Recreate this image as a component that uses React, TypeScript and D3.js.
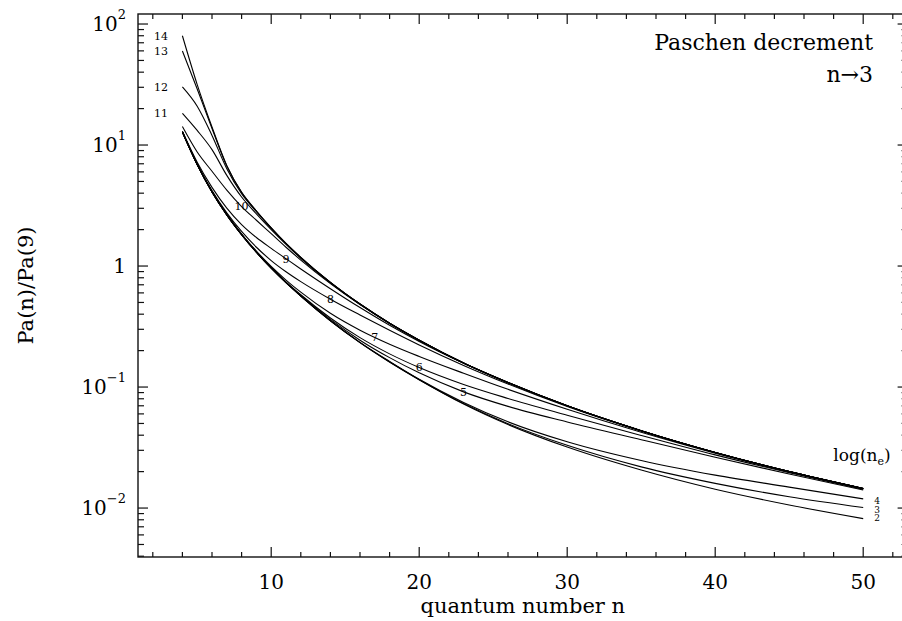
import React, { useEffect, useRef } from 'react'
import * as d3 from 'd3'

// quantum number n at which the curves were read
const nGrid = [4, 5, 6, 7, 8, 9, 10, 11, 12, 14, 16, 18, 20, 23, 26, 30, 35, 40, 45, 50]

// Pa(n)/Pa(9), one array per log(n_e)
const ne2 = [12.8, 6.90, 4.10, 2.65, 1.82, 1.30, 0.959, 0.728, 0.565, 0.353, 0.233, 0.161, 0.115, 0.0724, 0.0490, 0.0319, 0.0206, 0.0143, 0.0106, 0.00818]
const ne3 = [12.8, 6.90, 4.10, 2.65, 1.82, 1.30, 0.959, 0.728, 0.565, 0.353, 0.233, 0.161, 0.115, 0.0731, 0.0498, 0.0330, 0.0219, 0.0160, 0.0124, 0.0101]
const ne4 = [12.8, 6.90, 4.10, 2.65, 1.82, 1.30, 0.959, 0.728, 0.565, 0.354, 0.234, 0.163, 0.116, 0.0746, 0.0516, 0.0353, 0.0247, 0.0187, 0.0149, 0.0119]
const ne5 = [12.8, 6.90, 4.10, 2.65, 1.82, 1.30, 0.964, 0.733, 0.571, 0.362, 0.244, 0.175, 0.131, 0.0912, 0.0692, 0.0515, 0.0367, 0.0263, 0.0191, 0.0141]
const ne6 = [12.8, 6.90, 4.11, 2.66, 1.83, 1.31, 0.971, 0.740, 0.579, 0.372, 0.256, 0.188, 0.145, 0.105, 0.0805, 0.0585, 0.0398, 0.0275, 0.0196, 0.0143]
const ne7 = [12.8, 6.92, 4.12, 2.67, 1.84, 1.33, 0.991, 0.766, 0.608, 0.407, 0.295, 0.226, 0.179, 0.130, 0.0957, 0.0655, 0.0423, 0.0284, 0.0199, 0.0144]
const ne8 = [12.9, 6.98, 4.20, 2.75, 1.93, 1.43, 1.11, 0.897, 0.743, 0.532, 0.394, 0.295, 0.223, 0.151, 0.106, 0.0690, 0.0433, 0.0288, 0.0200, 0.0145]
const ne9 = [13.0, 7.21, 4.47, 3.01, 2.20, 1.72, 1.40, 1.15, 0.946, 0.650, 0.454, 0.324, 0.238, 0.157, 0.108, 0.0700, 0.0436, 0.0288, 0.0200, 0.0145]
const ne10 = [14.2, 8.75, 6.07, 4.24, 3.10, 2.39, 1.85, 1.43, 1.12, 0.716, 0.480, 0.335, 0.244, 0.158, 0.109, 0.0700, 0.0436, 0.0288, 0.0200, 0.0145]
const ne11 = [18.3, 13.2, 9.16, 5.61, 3.72, 2.70, 2.00, 1.51, 1.16, 0.728, 0.484, 0.337, 0.244, 0.158, 0.109, 0.0700, 0.0436, 0.0288, 0.0200, 0.0145]
const ne12 = [30.2, 20.9, 12.0, 6.37, 3.96, 2.81, 2.05, 1.53, 1.17, 0.733, 0.485, 0.337, 0.244, 0.158, 0.109, 0.0700, 0.0436, 0.0288, 0.0200, 0.0145]
const ne13 = [59.8, 29.0, 13.7, 6.70, 4.06, 2.85, 2.07, 1.54, 1.18, 0.733, 0.485, 0.337, 0.244, 0.158, 0.109, 0.0700, 0.0436, 0.0288, 0.0200, 0.0145]
const ne14 = [80.0, 31.6, 14.1, 6.76, 4.07, 2.85, 2.07, 1.54, 1.18, 0.733, 0.485, 0.337, 0.244, 0.158, 0.109, 0.0700, 0.0436, 0.0288, 0.0200, 0.0145]

const series = [
    { ne: 2, values: ne2 }, { ne: 3, values: ne3 }, { ne: 4, values: ne4 },
    { ne: 5, values: ne5 }, { ne: 6, values: ne6 }, { ne: 7, values: ne7 },
    { ne: 8, values: ne8 }, { ne: 9, values: ne9 }, { ne: 10, values: ne10 },
    { ne: 11, values: ne11 }, { ne: 12, values: ne12 }, { ne: 13, values: ne13 },
    { ne: 14, values: ne14 },
]

const xTicks = [10, 20, 30, 40, 50]
const yTicks = [0.01, 0.1, 1, 10, 100]
const yTickLabels = [['10', '−2'], ['10', '−1'], ['1', ''], ['10', '1'], ['10', '2']]

// curves labelled at their start (left), along the middle, and at the right end
const startLabels = [14, 13, 12, 11]
const midLabels = [{ ne: 10, n: 8 }, { ne: 9, n: 11 }, { ne: 8, n: 14 }, { ne: 7, n: 17 }, { ne: 6, n: 20 }, { ne: 5, n: 23 }]
const endLabels = [4, 3, 2]

const FONT = '"DejaVu Serif", serif'

const valueAt = (values: number[], n: number) => {
    const i = d3.bisectLeft(nGrid, n)
    if (nGrid[i] === n) return values[i]
    const t = (n - nGrid[i - 1]) / (nGrid[i] - nGrid[i - 1])
    return Math.pow(10, Math.log10(values[i - 1]) * (1 - t) + Math.log10(values[i]) * t)
}

const App = () => {
    const ref = useRef<SVGSVGElement>(null)

    useEffect(() => {
        const svg = d3.select(ref.current)
        svg.selectAll('*').remove()

        const left = 138
        const right = 907.6
        const top = 14
        const bottom = 557

        const x = d3.scaleLinear().domain([1, 53]).range([left, right])
        const y = d3.scaleLog().domain([0.00394, 121]).range([bottom, top])

        // frame
        svg.append('rect')
            .attr('x', left).attr('y', top)
            .attr('width', right - left).attr('height', bottom - top)
            .attr('fill', 'none').attr('stroke', '#111').attr('stroke-width', 1.4)

        // x ticks, bottom and top, pointing inward
        const xMinor = d3.range(2, 53, 2)
        const xt = svg.append('g').attr('stroke', '#111').attr('stroke-width', 1.2)
        xMinor.forEach((v) => {
            const len = xTicks.includes(v) ? 10 : 5
            xt.append('line').attr('x1', x(v)).attr('x2', x(v)).attr('y1', bottom).attr('y2', bottom - len)
            xt.append('line').attr('x1', x(v)).attr('x2', x(v)).attr('y1', top).attr('y2', top + len)
        })

        svg.selectAll('.x-label')
            .data(xTicks)
            .enter()
            .append('text')
            .attr('class', 'x-label')
            .attr('x', (d) => x(d))
            .attr('y', 589)
            .attr('text-anchor', 'middle')
            .style('font-family', FONT)
            .style('font-size', '20px')
            .text((d) => d)

        // y ticks, left and right
        const yt = svg.append('g').attr('stroke', '#111').attr('stroke-width', 1.2)
        y.ticks().forEach((v) => {
            const major = Math.abs(Math.log10(v) - Math.round(Math.log10(v))) < 1e-6
            const len = major ? 10 : 6
            yt.append('line').attr('x1', left).attr('x2', left + len).attr('y1', y(v)).attr('y2', y(v))
            yt.append('line').attr('x1', right).attr('x2', right - len).attr('y1', y(v)).attr('y2', y(v))
        })

        const yl = svg.selectAll('.y-label')
            .data(yTicks)
            .enter()
            .append('text')
            .attr('class', 'y-label')
            .attr('x', 126)
            .attr('y', (d) => y(d) + 7)
            .attr('text-anchor', 'end')
            .style('font-family', FONT)
            .style('font-size', '20px')
        yl.append('tspan').text((d, i) => yTickLabels[i][0])
        yl.append('tspan')
            .attr('dy', -12)
            .style('font-size', '13px')
            .text((d, i) => yTickLabels[i][1])

        // curves
        const line = d3.line<number>()
            .x((d, i) => x(nGrid[i]))
            .y((d) => y(d))
            .curve(d3.curveMonotoneX)

        svg.append('g')
            .selectAll('path')
            .data(series)
            .enter()
            .append('path')
            .attr('d', (d) => line(d.values))
            .attr('fill', 'none')
            .attr('stroke', '#000')
            .attr('stroke-width', 1.1)

        const byNe = (ne: number) => series.find((s) => s.ne === ne)!.values

        // labels at curve starts
        svg.selectAll('.start-label')
            .data(startLabels)
            .enter()
            .append('text')
            .attr('class', 'start-label')
            .attr('x', 168)
            .attr('y', (d) => y(byNe(d)[0]))
            .attr('dy', '0.35em')
            .attr('text-anchor', 'end')
            .style('font-family', FONT)
            .style('font-size', '11px')
            .text((d) => d)

        // labels on the curves
        svg.selectAll('.mid-label')
            .data(midLabels)
            .enter()
            .append('text')
            .attr('class', 'mid-label')
            .attr('x', (d) => x(d.n))
            .attr('y', (d) => y(valueAt(byNe(d.ne), d.n)))
            .attr('dy', '0.35em')
            .attr('text-anchor', 'middle')
            .style('font-family', FONT)
            .style('font-size', '11px')
            .style('fill', '#000')
            .text((d) => d.ne)

        // stacked labels at the right end
        const endY = y(byNe(4)[nGrid.length - 1]) + 2
        svg.selectAll('.end-label')
            .data(endLabels)
            .enter()
            .append('text')
            .attr('class', 'end-label')
            .attr('x', 877)
            .attr('y', (d, i) => endY + i * 8.5)
            .attr('dy', '0.35em')
            .attr('text-anchor', 'middle')
            .style('font-family', FONT)
            .style('font-size', '9px')
            .text((d) => d)

        const lg = svg.append('text')
            .attr('x', 862)
            .attr('y', 461)
            .attr('text-anchor', 'middle')
            .style('font-family', FONT)
            .style('font-size', '17px')
        lg.append('tspan').text('log(n')
        lg.append('tspan').attr('dy', 4).style('font-size', '11px').text('e')
        lg.append('tspan').attr('dy', -4).text(')')

        // titles
        svg.append('text')
            .attr('x', 873).attr('y', 50)
            .attr('text-anchor', 'end')
            .style('font-family', FONT)
            .style('font-size', '22px')
            .text('Paschen decrement')
        svg.append('text')
            .attr('x', 873).attr('y', 82)
            .attr('text-anchor', 'end')
            .style('font-family', FONT)
            .style('font-size', '22px')
            .text('n→3')

        svg.append('text')
            .attr('x', (left + right) / 2).attr('y', 613)
            .attr('text-anchor', 'middle')
            .style('font-family', FONT)
            .style('font-size', '21px')
            .text('quantum number n')

        svg.append('text')
            .attr('transform', 'translate(33,' + (top + bottom) / 2 + ') rotate(-90)')
            .attr('text-anchor', 'middle')
            .style('font-family', FONT)
            .style('font-size', '21px')
            .text('Pa(n)/Pa(9)')
    }, [])

    return (
        <svg
            ref={ref}
            width={902}
            height={621}
            style={{ position: 'absolute', left: 0, top: 0, background: '#fff' }}
        ></svg>
    )
}

export default App
